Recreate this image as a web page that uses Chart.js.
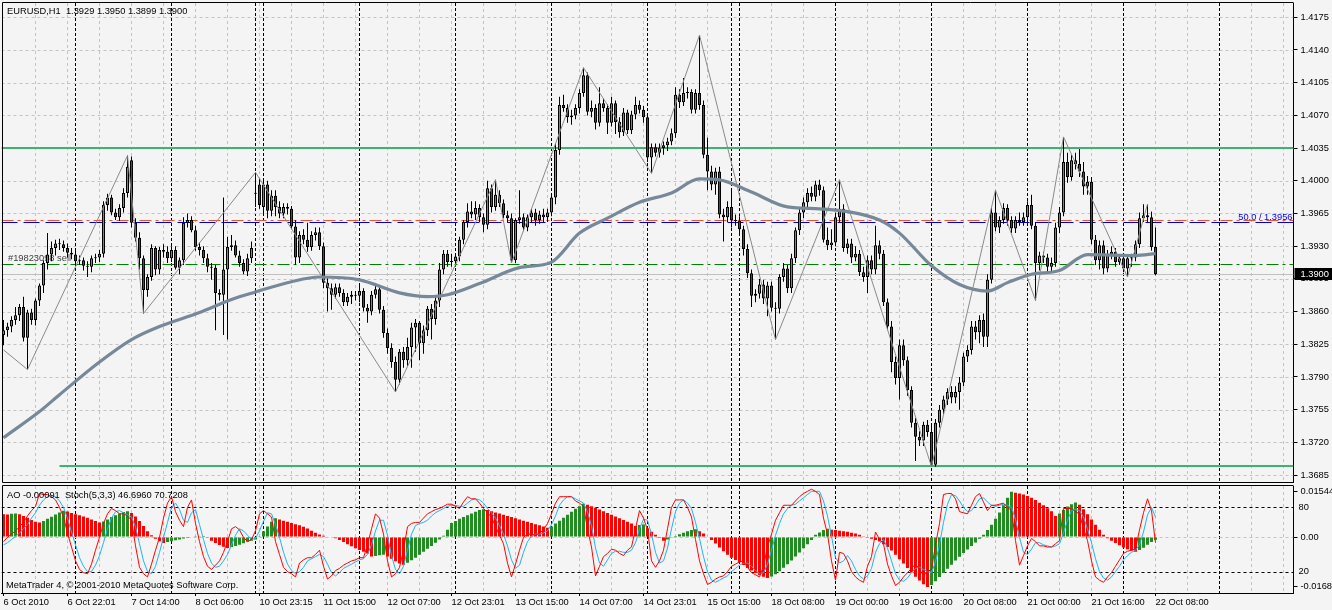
<!DOCTYPE html>
<html>
<head>
<meta charset="utf-8">
<title>EURUSD,H1</title>
<script src="https://cdn.jsdelivr.net/npm/chart.js@4.4.1/dist/chart.umd.min.js"></script>
<style>
  html, body { margin: 0; padding: 0; background: #f4f4f4; }
  #wrap { position: relative; width: 1332px; height: 610px; overflow: hidden; }
  canvas { position: absolute; left: 0; }
  #main { top: 0; }
  #ind { top: 484px; }
</style>
</head>
<body>
<div id="wrap">
  <canvas id="main" width="1332" height="484"></canvas>
  <canvas id="ind" width="1332" height="126"></canvas>
</div>
<script>
// EURUSD H1 candles, in pips (1 = 0.0001)
const opens = [
  13835,13840,13844,13851,13856,13865,13832,13859,13851,13872,
  13888,13912,13921,13928,13933,13932,13928,13923,13921,13914,
  13915,13909,13908,13917,13918,13922,13974,13982,13966,13961,
  13971,13987,14022,13955,13939,13917,13883,13897,13928,13905,
  13926,13924,13917,13926,13907,13915,13955,13958,13947,13929,
  13926,13917,13908,13907,13880,13878,13905,13929,13931,13920,
  13912,13903,13917,13986,13996,13972,13996,13968,13984,13972,
  13965,13972,13970,13951,13918,13942,13937,13929,13942,13945,
  13930,13891,13885,13878,13886,13880,13870,13876,13878,13877,
  13882,13864,13860,13878,13884,13862,13837,13821,13806,13787,
  13817,13808,13822,13843,13848,13826,13840,13863,13852,13872,
  13905,13922,13913,13914,13919,13937,13956,13967,13964,13971,
  13961,13953,13992,13972,13985,13976,13963,13960,13915,13958,
  13961,13950,13961,13966,13958,13964,13961,13966,13982,14033,
  14081,14078,14068,14070,14078,14094,14113,14074,14078,14062,
  14083,14078,14062,14083,14063,14052,14073,14054,14071,14081,
  14076,14068,14025,14036,14030,14035,14038,14042,14051,14092,
  14084,14094,14095,14076,14094,14081,14028,14010,13996,14010,
  13964,13961,13972,13958,13957,13948,13927,13901,13877,13879,
  13889,13874,13888,13864,13863,13897,13906,13885,13917,13947,
  13966,13977,13987,13983,13996,13990,13937,13931,13934,13961,
  13970,13928,13933,13918,13922,13902,13897,13915,13905,13931,
  13922,13870,13844,13806,13789,13824,13808,13776,13741,13726,
  13722,13739,13731,13696,13741,13755,13766,13774,13768,13774,
  13784,13812,13819,13844,13838,13851,13833,13894,13966,13950,
  13958,13971,13958,13949,13958,13956,13961,13974,13952,13912,
  13920,13918,13908,13912,13950,13966,14020,14004,14022,14018,
  14010,13994,13999,13937,13915,13931,13906,13921,13924,13913,
  13917,13906,13917,13918,13932,13960,13963,13961,13929
];
const highs = [
  13851,13848,13855,13865,13868,13876,13862,13863,13874,13890,
  13915,13944,13935,13937,13938,13936,13933,13928,13925,13920,
  13918,13914,13920,13922,13926,13978,13986,13985,13970,13975,
  13992,14027,14026,13960,13945,13920,13900,13932,13930,13929,
  13932,13930,13930,13930,13918,13961,13965,13962,13952,13934,
  13930,13922,13912,13910,13884,13982,13940,13942,13936,13925,
  13916,13922,13935,14009,14003,14003,14000,13990,13990,13978,
  13976,13976,13973,13958,13946,13948,13955,13946,13950,13950,
  13934,13896,13890,13890,13890,13884,13880,13882,13882,13888,
  13885,13868,13882,13890,13888,13866,13842,13826,13812,13820,
  13822,13832,13848,13852,13850,13845,13866,13868,13876,13912,
  13926,13926,13922,13922,13940,13958,13976,13978,13978,13975,
  13965,14000,13996,14001,13990,13980,13968,13965,13960,13990,
  13965,13964,13970,13970,13968,13970,13970,13986,14040,14090,
  14092,14082,14076,14082,14098,14121,14116,14086,14082,14100,
  14088,14082,14090,14086,14068,14078,14076,14075,14090,14086,
  14080,14072,14040,14040,14040,14042,14046,14056,14100,14098,
  14110,14100,14098,14098,14156,14086,14046,14016,14014,14015,
  13970,13978,13990,13964,13962,13952,13932,13905,13884,13895,
  13894,13892,13892,13870,13900,13912,13910,13922,13950,13970,
  13982,13992,13994,14000,14001,13994,13950,13948,13966,14001,
  13975,13938,13938,13930,13926,13908,13920,13920,13952,13936,
  13926,13874,13850,13812,13830,13830,13812,13780,13746,13732,
  13742,13744,13740,13745,13760,13770,13778,13780,13780,13790,
  13816,13824,13850,13850,13856,13858,13900,13972,13990,13962,
  13976,13975,13962,13962,13966,13966,13978,13985,13956,13924,
  13924,13922,13918,13955,13972,14047,14030,14028,14030,14034,
  14020,14005,14004,13942,13936,13936,13926,13930,13928,13920,
  13920,13920,13922,13936,13966,13975,13975,13967,13950
];
const lows = [
  13824,13833,13838,13846,13850,13828,13798,13846,13845,13866,
  13880,13905,13914,13920,13926,13924,13918,13916,13910,13910,
  13904,13897,13902,13912,13913,13918,13968,13963,13958,13957,
  13966,13982,13950,13935,13905,13858,13876,13893,13899,13900,
  13918,13912,13913,13905,13900,13910,13950,13945,13925,13920,
  13912,13902,13894,13840,13872,13835,13830,13925,13918,13908,
  13900,13898,13912,13972,13970,13965,13960,13962,13962,13960,
  13960,13964,13948,13910,13912,13932,13924,13925,13936,13926,
  13885,13860,13862,13874,13876,13866,13866,13868,13872,13870,
  13860,13848,13856,13874,13858,13832,13815,13800,13774,13782,
  13800,13802,13800,13817,13808,13815,13834,13830,13846,13865,
  13900,13908,13908,13908,13914,13932,13950,13960,13958,13956,
  13945,13948,13966,13968,13972,13960,13955,13912,13912,13954,
  13946,13946,13955,13952,13954,13956,13956,13962,13975,14028,
  14074,14062,14060,14066,14072,14090,14070,14068,14055,14058,
  14074,14050,14058,14050,14046,14048,14050,14050,14066,14072,
  14062,14020,14008,14026,14025,14028,14032,14038,14046,14078,
  14080,14088,14072,14072,14076,14024,13990,13990,13985,13960,
  13935,13956,13950,13952,13944,13920,13896,13865,13870,13874,
  13868,13855,13860,13830,13858,13892,13880,13880,13912,13942,
  13960,13972,13978,13978,13984,13934,13926,13926,13930,13956,
  13924,13922,13912,13914,13898,13892,13880,13900,13900,13916,
  13866,13840,13795,13782,13766,13802,13770,13736,13700,13716,
  13716,13726,13694,13694,13736,13750,13760,13762,13762,13755,
  13780,13806,13814,13830,13826,13822,13822,13890,13946,13944,
  13954,13952,13944,13944,13952,13952,13956,13948,13872,13904,
  13912,13902,13902,13908,13944,13962,13998,14000,14012,14004,
  13985,13985,13932,13910,13905,13900,13902,13916,13908,13910,
  13902,13897,13908,13914,13928,13956,13955,13925,13899
];
const closes = [
  13840,13844,13851,13856,13865,13832,13859,13851,13872,13888,
  13912,13921,13928,13933,13932,13928,13923,13921,13914,13915,
  13909,13908,13917,13918,13922,13974,13982,13966,13961,13971,
  13987,14015,13955,13939,13917,13883,13897,13928,13905,13926,
  13924,13917,13926,13907,13915,13955,13958,13947,13929,13926,
  13917,13908,13907,13880,13878,13905,13929,13931,13920,13912,
  13903,13917,13928,13987,13974,13996,13968,13984,13972,13965,
  13972,13970,13951,13918,13942,13937,13929,13942,13945,13930,
  13891,13885,13878,13886,13880,13870,13876,13878,13877,13882,
  13864,13860,13878,13884,13862,13837,13821,13806,13787,13817,
  13808,13822,13843,13848,13826,13840,13863,13852,13872,13905,
  13922,13913,13914,13919,13937,13956,13967,13964,13971,13961,
  13953,13992,13972,13985,13976,13963,13960,13915,13958,13961,
  13950,13961,13966,13958,13964,13961,13966,13982,14033,14081,
  14078,14068,14070,14078,14094,14113,14074,14078,14062,14083,
  14078,14062,14083,14063,14052,14073,14054,14071,14081,14076,
  14068,14025,14036,14030,14035,14038,14042,14051,14092,14084,
  14094,14095,14076,14094,14081,14028,14010,13996,14010,13964,
  13961,13972,13958,13957,13948,13927,13901,13877,13879,13889,
  13874,13888,13864,13863,13897,13906,13885,13917,13947,13966,
  13977,13987,13983,13996,13990,13937,13931,13934,13961,13970,
  13928,13933,13918,13922,13902,13897,13915,13905,13931,13922,
  13870,13844,13806,13789,13824,13808,13776,13741,13726,13722,
  13739,13731,13696,13741,13755,13766,13774,13768,13774,13784,
  13812,13819,13844,13838,13851,13833,13894,13966,13950,13958,
  13971,13958,13949,13958,13956,13961,13974,13952,13912,13920,
  13918,13908,13912,13950,13966,14020,14004,14022,14018,14010,
  13994,13999,13937,13915,13931,13906,13921,13924,13913,13917,
  13906,13917,13918,13932,13960,13963,13961,13929,13900
];

// moving average: [bar, pips]
const maPoints = [
  [0,13725],[9,13753],[14,13771],[24,13806],[32,13830],[39,13844],[49,13859],
  [57,13873],[63,13881],[72,13892],[79,13897],[89,13894],[99,13880],[106,13876],
  [111,13878],[119,13890],[129,13907],[137,13913],[144,13944],[151,13960],
  [159,13977],[167,13987],[174,14002],[179,14001],[187,13988],[196,13972],
  [204,13970],[211,13967],[219,13958],[224,13944],[232,13909],[239,13889],
  [246,13882],[251,13891],[257,13900],[264,13904],[271,13921],[283,13920],[288,13922]
];
// zigzag pivots: [bar, pips]
const zigzagPoints = [
  [0,13819],[6,13798],[31,14027],[35,13858],[63,14009],[98,13774],[123,14001],
  [127,13912],[145,14121],[162,14008],[174,14156],[193,13830],[209,14001],
  [232,13694],[248,13990],[258,13872],[265,14047],[281,13897],[286,13975]
];

// Awesome Oscillator, 0.0001 units
const aoValues = [
  78,77,79,80,78,72,66,58,52,50,
  55,62,69,77,84,90,87,82,78,74,
  70,66,60,55,50,53,60,68,74,80,
  85,88,82,70,55,38,20,6,-6,-14,
  -20,-17,-14,-11,-8,-5,-3,-1,1,3,
  4,-2,-12,-20,-27,-33,-37,-34,-30,-26,
  -21,-16,-12,-8,3,20,36,52,64,60,
  56,52,48,44,40,35,29,22,15,9,
  5,2,0,-4,-10,-17,-24,-31,-38,-44,
  -50,-56,-66,-64,-62,-60,-66,-74,-82,-90,
  -94,-87,-79,-70,-60,-50,-40,-30,-19,-8,
  5,25,48,55,62,68,74,80,86,92,
  95,92,88,84,80,76,72,68,64,60,
  56,52,48,44,40,36,32,36,46,56,
  66,76,86,96,105,113,110,105,100,94,
  88,82,76,70,64,58,52,46,38,41,
  43,30,18,8,-3,-12,-8,-2,4,10,
  15,20,24,27,20,12,2,-10,-22,-35,
  -48,-60,-70,-78,-85,-95,-105,-114,-122,-129,
  -135,-139,-134,-126,-116,-104,-92,-80,-66,-52,
  -38,-24,-10,8,16,24,28,25,24,22,
  20,18,15,12,8,3,-2,-6,-10,-15,
  -24,-34,-46,-60,-75,-90,-105,-120,-135,-148,
  -160,-170,-163,-150,-136,-122,-108,-94,-80,-67,
  -54,-42,-30,-18,-6,8,24,42,62,84,
  108,134,154,151,148,145,140,134,126,117,
  108,98,88,72,80,92,104,112,118,110,
  95,78,60,42,25,8,-4,-12,-20,-28,
  -35,-41,-46,-50,-44,-36,-26,-17,-9
];
// Stochastic(5,3,3)
const stochMain = [
  48,52,55,58,62,66,72,77,81,93,
  92,92,90,87,80,71,56,43,30,22,
  19,18,27,40,52,65,74,79,77,74,
  74,72,68,44,24,18,15,27,40,52,
  70,84,90,76,68,62,80,87,65,48,
  34,25,22,26,30,38,48,60,62,59,
  52,48,50,58,74,77,74,71,48,36,
  24,20,18,15,28,31,33,33,36,40,
  25,13,16,21,23,26,28,30,31,33,
  33,45,60,74,70,55,30,15,18,24,
  40,62,65,66,66,70,74,76,78,79,
  81,83,83,81,79,85,90,88,88,84,
  79,75,71,62,54,46,28,15,27,40,
  52,55,55,54,56,59,65,74,84,90,
  90,90,90,86,84,81,60,43,16,25,
  34,37,41,40,37,35,40,43,60,77,
  70,59,30,24,30,40,60,80,87,87,
  87,80,71,50,30,18,8,10,13,15,
  16,20,25,27,29,30,24,19,17,15,
  25,43,55,68,75,82,82,82,86,90,
  93,95,97,95,92,70,55,30,12,38,
  37,30,20,15,12,10,25,34,57,50,
  46,27,16,7,10,15,19,23,27,22,
  16,20,22,45,65,92,93,93,88,76,
  75,74,82,90,93,85,77,82,82,83,
  84,80,77,49,26,35,44,51,48,44,
  44,43,43,46,49,79,79,79,76,74,
  60,49,30,15,12,10,15,19,25,31,
  37,39,40,41,59,75,88,77,47
];
const stochSignal = [
  45,47,50,53,56,60,64,70,75,82,
  87,90,91,90,86,80,70,57,45,33,
  25,20,20,26,35,47,60,70,76,77,
  75,73,71,62,46,30,20,18,25,38,
  52,66,80,84,78,68,66,75,78,64,
  50,37,28,24,25,30,36,45,54,60,
  58,54,50,51,58,67,75,74,64,52,
  38,27,21,18,20,24,30,32,34,36,
  34,27,19,16,19,23,25,27,29,31,
  32,36,45,58,68,68,54,35,22,18,
  25,40,55,63,65,66,68,72,75,77,
  79,81,82,82,81,81,84,87,88,87,
  84,79,75,70,63,55,44,31,23,26,
  38,48,53,55,55,56,58,64,72,82,
  87,90,90,88,86,84,76,63,42,28,
  25,31,37,39,39,38,38,40,47,60,
  69,68,55,38,28,30,42,60,76,84,
  87,84,79,66,51,34,20,12,10,12,
  14,16,20,23,26,28,28,25,21,18,
  19,27,40,54,65,74,79,82,83,86,
  89,92,95,95,95,86,72,53,33,28,
  30,35,30,22,16,13,16,23,38,46,
  50,42,30,18,12,11,14,19,23,24,
  22,20,19,29,45,66,83,92,91,86,
  80,76,77,82,88,89,85,82,81,82,
  83,82,80,69,52,38,36,41,47,47,
  45,44,43,44,46,56,68,77,78,77,
  71,60,47,32,20,14,12,15,20,25,
  31,35,38,40,45,57,73,80,71
];

const priceTicks = [1.3685, 1.3720, 1.3755, 1.3790, 1.3825, 1.3860, 1.3895, 1.3930,
  1.3965, 1.4000, 1.4035, 1.4070, 1.4105, 1.4140, 1.4175];
const aoTicks = [0.01544, 0, -0.01687];
const stochLevels = [80, 20];
const timeLabels = {
  0: '6 Oct 2010', 16: '6 Oct 22:01', 32: '7 Oct 14:00', 48: '8 Oct 06:00',
  64: '10 Oct 23:15', 80: '11 Oct 15:00', 96: '12 Oct 07:00', 112: '12 Oct 23:01',
  128: '13 Oct 15:00', 144: '14 Oct 07:00', 160: '14 Oct 23:01', 176: '15 Oct 15:00',
  192: '18 Oct 08:00', 208: '19 Oct 00:00', 224: '19 Oct 16:00', 240: '20 Oct 08:00',
  256: '21 Oct 00:00', 272: '21 Oct 16:00', 288: '22 Oct 08:00'
};
const daySeparators = [18, 42, 63, 65, 89, 113, 137, 161, 182, 184, 208, 232, 256, 280, 304];

const levelTop = 1.4035;
const levelBottom = 1.3695, levelBottomStart = 14;
const fiboLevel = 1.3956, stopLevel = 1.3958, orderLevel = 1.3911;

const BAR_COUNT = 323; // bars plus empty space on the right
const PIP = 10000;
const FONT = '9.3px "Liberation Sans", Arial, sans-serif';

Chart.defaults.font.family = '"Liberation Sans", Arial, sans-serif';
Chart.defaults.font.size = 9.3;
Chart.defaults.color = '#000';

const labels = [];
for (let i = 0; i < BAR_COUNT; i++) labels.push(timeLabels[i] || '');

function sparse(points) {
  const arr = new Array(BAR_COUNT).fill(null);
  points.forEach(function(p) { arr[p[0]] = p[1] / PIP; });
  return arr;
}

const last = closes.length - 1;
const bodies = opens.map((o, i) => [o / PIP, closes[i] / PIP]);
const wicks = lows.map((l, i) => [l / PIP, highs[i] / PIP]);
const bodyColors = opens.map((o, i) => closes[i] >= o ? '#3cb043' : '#ff0000');
const aoColors = aoValues.map((v, i) => (i > 0 && v > aoValues[i - 1]) ? '#228b22' : '#ff0000');
const bidPrice = closes[last] / PIP;

function hLine(ctx, x1, x2, py, color, dash, width) {
  const yy = Math.round(py) + (width % 2 ? 0.5 : 0);
  ctx.beginPath();
  ctx.setLineDash(dash);
  ctx.strokeStyle = color;
  ctx.lineWidth = width;
  ctx.moveTo(x1, yy);
  ctx.lineTo(x2, yy);
  ctx.stroke();
}
function vLine(ctx, px, y1, y2, color, dash) {
  const xx = Math.floor(px) + 0.5;
  ctx.beginPath();
  ctx.setLineDash(dash);
  ctx.strokeStyle = color;
  ctx.lineWidth = 1;
  ctx.moveTo(xx, y1);
  ctx.lineTo(xx, y2);
  ctx.stroke();
}
function drawVGrid(ctx, x, a) {
  for (let i = 8; i < BAR_COUNT; i += 8) {
    if (daySeparators.indexOf(i) < 0) vLine(ctx, x.getPixelForValue(i), a.top, a.bottom, '#c3c3c3', [3, 3]);
  }
  daySeparators.forEach(i => vLine(ctx, x.getPixelForValue(i), a.top, a.bottom, '#000', [3, 2]));
}
function frame(ctx, a) {
  ctx.save();
  ctx.setLineDash([]);
  ctx.strokeStyle = '#000';
  ctx.lineWidth = 1;
  ctx.beginPath();
  ctx.moveTo(a.right, a.top - 0.5);
  ctx.lineTo(a.left + 1, a.top - 0.5);
  ctx.lineTo(a.left + 1, a.bottom + 0.5);
  ctx.lineTo(a.right, a.bottom + 0.5);
  ctx.stroke();
  ctx.restore();
}

const mainDecor = {
  id: 'mainDecor',
  beforeDatasetsDraw(chart) {
    const ctx = chart.ctx, a = chart.chartArea, x = chart.scales.x, y = chart.scales.y;
    ctx.save();
    ctx.beginPath();
    ctx.rect(a.left, a.top, a.right - a.left, a.bottom - a.top);
    ctx.clip();
    drawVGrid(ctx, x, a);
    priceTicks.forEach(v => hLine(ctx, a.left, a.right, y.getPixelForValue(v), '#c3c3c3', [3, 3], 1));
    hLine(ctx, a.left, a.right, y.getPixelForValue(levelTop), '#3cb371', [], 2);
    hLine(ctx, x.getPixelForValue(levelBottomStart), a.right, y.getPixelForValue(levelBottom), '#3cb371', [], 2);
    hLine(ctx, a.left, a.right, y.getPixelForValue(bidPrice), '#c0c0c0', [], 1);
    hLine(ctx, a.left, a.right, y.getPixelForValue(orderLevel), '#008000', [12, 4, 3, 4], 1);
    hLine(ctx, a.left, a.right, y.getPixelForValue(stopLevel), '#f0502a', [12, 4, 3, 4], 1);
    hLine(ctx, a.left, a.right, y.getPixelForValue(fiboLevel), '#0000cd', [16, 6], 1);
    ctx.setLineDash([]);
    ctx.font = FONT;
    ctx.textBaseline = 'middle';
    ctx.textAlign = 'left';
    ctx.fillStyle = '#404040';
    ctx.fillText('#19823098 sell', 8, y.getPixelForValue(orderLevel) - 6);
    ctx.restore();
  },
  afterDraw(chart) {
    const ctx = chart.ctx, a = chart.chartArea, y = chart.scales.y;
    frame(ctx, a);
    const f = v => (v / PIP).toFixed(4);
    ctx.save();
    ctx.font = FONT;
    ctx.textBaseline = 'middle';
    ctx.textAlign = 'left';
    ctx.fillStyle = '#000';
    ctx.fillText('EURUSD,H1  ' + f(opens[last]) + ' ' + f(highs[last]) + ' ' + f(lows[last]) + ' ' + f(closes[last]), 7, 11);
    ctx.fillStyle = '#0000ff';
    ctx.textAlign = 'right';
    ctx.textBaseline = 'alphabetic';
    ctx.fillText('50.0 / 1.3956', a.right - 1, y.getPixelForValue(fiboLevel) - 2);
    // current price box on the axis
    const py = Math.round(y.getPixelForValue(bidPrice));
    ctx.fillStyle = '#000';
    ctx.fillRect(a.right + 1, py - 6, 1332 - a.right, 12);
    ctx.fillStyle = '#fff';
    ctx.textAlign = 'left';
    ctx.textBaseline = 'middle';
    ctx.fillText(f(closes[last]), a.right + 7, py);
    ctx.restore();
  }
};

new Chart(document.getElementById('main'), {
  type: 'bar',
  data: {
    labels: labels,
    datasets: [
      { type: 'line', data: sparse(zigzagPoints), borderColor: '#8a8a8a', borderWidth: 1,
        pointRadius: 0, spanGaps: true, order: 0 },
      { type: 'line', data: sparse(maPoints), borderColor: '#778899', borderWidth: 3.2,
        pointRadius: 0, spanGaps: true, cubicInterpolationMode: 'monotone', order: 1 },
      { data: bodies, backgroundColor: bodyColors, borderColor: '#000', borderWidth: 1,
        borderSkipped: false, barThickness: 3, minBarLength: 1, grouped: false, inflateAmount: 0, order: 2 },
      { data: wicks, backgroundColor: '#000', borderWidth: 0, barThickness: 1,
        grouped: false, inflateAmount: 0, order: 3 }
    ]
  },
  options: {
    responsive: false,
    animation: false,
    events: [],
    layout: { padding: { left: 1.5, top: 3, right: 0, bottom: 2 } },
    plugins: { legend: { display: false }, tooltip: { enabled: false } },
    scales: {
      x: { display: false },
      y: {
        position: 'right',
        min: 1.36776,
        max: 1.41903,
        afterBuildTicks(s) { s.ticks = priceTicks.map(v => ({ value: v })); },
        afterFit(s) { s.width = 38.5; s.paddingTop = 0; s.paddingBottom = 0; },
        ticks: { callback: v => v.toFixed(4), padding: 3, color: '#000' },
        grid: { drawOnChartArea: false, tickLength: 4, tickColor: '#000' },
        border: { color: '#000' }
      }
    }
  },
  plugins: [mainDecor]
});

const indDecor = {
  id: 'indDecor',
  beforeDatasetsDraw(chart) {
    const ctx = chart.ctx, a = chart.chartArea, x = chart.scales.x;
    const yAO = chart.scales.yAO, yS = chart.scales.yS;
    ctx.save();
    ctx.beginPath();
    ctx.rect(a.left, a.top, a.right - a.left, a.bottom - a.top);
    ctx.clip();
    drawVGrid(ctx, x, a);
    hLine(ctx, a.left, a.right, yAO.getPixelForValue(0), '#c3c3c3', [3, 3], 1);
    stochLevels.forEach(v => hLine(ctx, a.left, a.right, yS.getPixelForValue(v), '#000', [3, 3], 1));
    ctx.restore();
  },
  afterDraw(chart) {
    const ctx = chart.ctx, a = chart.chartArea, yS = chart.scales.yS;
    frame(ctx, a);
    ctx.save();
    ctx.font = FONT;
    ctx.textBaseline = 'middle';
    ctx.textAlign = 'left';
    ctx.fillStyle = '#000';
    ctx.fillText('AO -0.00091  Stoch(5,3,3) 46.6960 70.7208', 7, 11);
    ctx.fillText('MetaTrader 4, \u00a9 2001-2010 MetaQuotes Software Corp.', 6, 101);
    stochLevels.forEach(v => ctx.fillText(String(v), a.right + 5, yS.getPixelForValue(v)));
    ctx.restore();
  }
};

new Chart(document.getElementById('ind'), {
  type: 'bar',
  data: {
    labels: labels,
    datasets: [
      { type: 'line', data: stochMain, yAxisID: 'yS', borderColor: '#ff0000', borderWidth: 1,
        pointRadius: 0, order: 0 },
      { type: 'line', data: stochSignal, yAxisID: 'yS', borderColor: '#1eb4f0', borderWidth: 1,
        pointRadius: 0, order: 1 },
      { data: aoValues.map(v => v / PIP), yAxisID: 'yAO', backgroundColor: aoColors,
        barThickness: 3, grouped: false, inflateAmount: 0, borderWidth: 0, order: 2 }
    ]
  },
  options: {
    responsive: false,
    animation: false,
    events: [],
    layout: { padding: { left: 1.5, top: 2, right: 0, bottom: 0 } },
    plugins: { legend: { display: false }, tooltip: { enabled: false } },
    scales: {
      x: {
        grid: {
          offset: false, drawOnChartArea: false, tickLength: 3,
          tickColor: c => timeLabels[c.index] !== undefined ? '#000' : 'rgba(0,0,0,0)'
        },
        border: { color: '#000' },
        ticks: {
          autoSkip: false, maxRotation: 0, minRotation: 0, align: 'start', padding: 1,
          color: '#000', callback: (v, i) => timeLabels[i] || ''
        },
        afterFit(s) { s.height = 17; s.paddingLeft = 0; s.paddingRight = 0; }
      },
      yAO: {
        position: 'right',
        min: -0.019013,
        max: 0.017379,
        afterBuildTicks(s) { s.ticks = aoTicks.map(v => ({ value: v })); },
        afterFit(s) { s.width = 38.5; s.paddingTop = 0; s.paddingBottom = 0; },
        ticks: { callback: v => v === 0 ? '0.00' : v.toFixed(5), padding: 3, color: '#000' },
        grid: { drawOnChartArea: false, tickLength: 4, tickColor: '#000' },
        border: { color: '#000' }
      },
      yS: { display: false, min: 0, max: 100 }
    }
  },
  plugins: [indDecor]
});
</script>
</body>
</html>
